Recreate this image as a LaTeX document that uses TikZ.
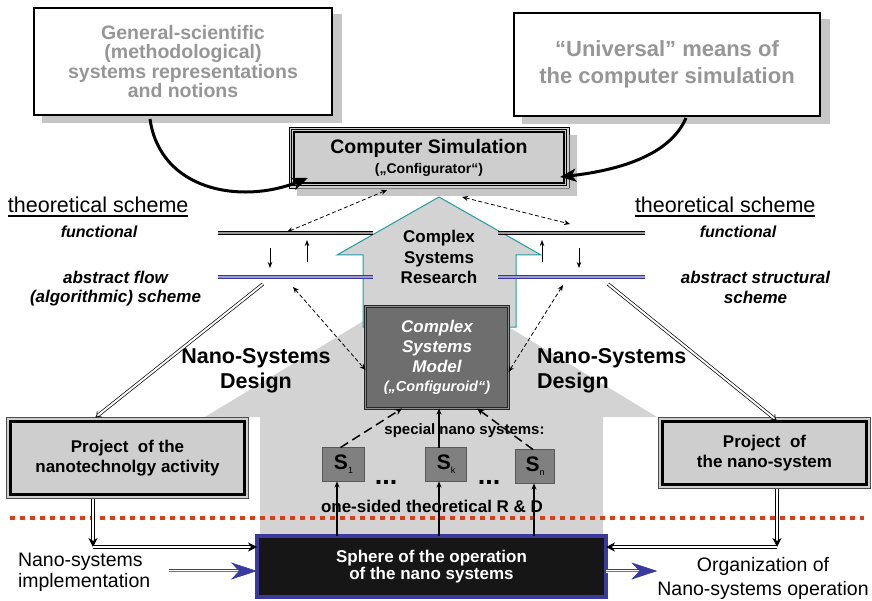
\documentclass[tikz,border=0pt]{standalone}
\usepackage{fontspec}
\setmainfont{Liberation Sans}
\usetikzlibrary{arrows.meta}

\definecolor{panelgray}{RGB}{206,206,206}
\definecolor{boxshade}{RGB}{198,198,198}
\definecolor{areagray}{RGB}{211,211,211}
\definecolor{modelgray}{RGB}{110,110,110}
\definecolor{stepgray}{RGB}{128,128,128}
\definecolor{softtext}{RGB}{150,150,150}
\definecolor{navy}{RGB}{58,58,158}
\definecolor{tealline}{RGB}{30,158,160}
\definecolor{dotred}{RGB}{214,64,24}
\definecolor{deepblack}{RGB}{22,22,22}

\newcommand\fs[2]{\fontsize{#1}{#2}\selectfont}

\begin{document}
\begin{tikzpicture}[x=1pt,y=-1pt,
  every node/.style={inner sep=0pt, outer sep=0pt, align=center},
  sourcebox/.style={draw, line width=2pt, fill=white, text=softtext},
  simbox/.style={draw, line width=0.7pt, fill=panelgray},
  modelbox/.style={draw=black!85, line width=0.7pt, double=black!45, double distance=1.4pt,
    fill=modelgray, text=white},
  projbox/.style={draw=black!70, line width=0.6pt, fill=panelgray},
  sbox/.style={draw=black!65, line width=0.8pt, fill=stepgray},
  spherebox/.style={draw=navy, line width=4pt, fill=deepblack, text=white},
  schemeline/.style={draw=black, line width=1pt, double=black!40, double distance=2pt},
  flowline/.style={draw=navy, line width=0.9pt, double=navy!50!white, double distance=2.2pt},
  bigcurve/.style={line width=3pt, -{Stealth[length=16pt,width=13pt,inset=4pt]}},
  linkarrow/.style={line width=0.8pt, dash pattern=on 4pt off 2.5pt,
    {Stealth[length=6pt,width=5pt]}-{Stealth[length=6pt,width=5pt]}},
  tickarrow/.style={line width=0.8pt, -{Stealth[length=6pt,width=4.5pt]}},
  designarrow/.style={line width=0.7pt, double, double distance=2pt, -{Implies}},
  feedarrow/.style={line width=0.7pt, double, double distance=2pt, -{Stealth[length=9pt,width=9pt]}},
  bluepipe/.style={draw=navy!75!white, line width=0.6pt,
    -{Stealth[length=26pt,width=17pt,inset=8pt,color=navy]},
    preaction={draw=navy, line width=0.8pt, double=white, double distance=3pt, arrows=-, shorten >=14pt}},
  riseline/.style={line width=1.5pt, -{Stealth[length=6pt,width=5pt]}},
  trialline/.style={line width=1.5pt, dash pattern=on 9pt off 5pt, -{Stealth[length=7pt,width=6pt]}},
  cutline/.style={draw=dotred, line width=4.5pt, dash pattern=on 4.5pt off 5.5pt}
]
\useasboundingbox (0,0) rectangle (872,601);

% shaded design area behind the lower part
\fill[areagray] (431,280) -- (657,417) -- (603,417) -- (603,534) -- (260,534)
  -- (260,417) -- (205,417) -- cycle;

% research arrow
\filldraw[fill=areagray, draw=tealline, line width=1pt]
  (439,197) -- (541,255) -- (516,255) -- (516,327) -- (363,327) -- (363,255) -- (337,255) -- cycle;
\node[font=\bfseries\fs{17}{20.3}] (research) at (439,257) {Complex\\Systems\\Research};

% boundary between theory and practice
\coordinate (cutL) at (10,518);
\coordinate (cutR) at (864,518);
\draw[cutline] (cutL) -- (cutR);

% sources with their shadows
\fill[color=boxshade] (42,14.5) rectangle (342,123.5);
\fill[color=boxshade] (522,19.5) rectangle (830,124.5);
\node[sourcebox, minimum width=298pt, minimum height=107pt, font=\bfseries\fs{19.5}{19.3}] (gen) at (183,61.5)
  {General-scientific\\(methodological)\\systems representations\\and notions};
\node[sourcebox, minimum width=306pt, minimum height=103pt, font=\bfseries\fs{22}{27}] (uni) at (667,64.5)
  {“Universal” means of\\the computer simulation};

% computer simulation with an L-shaped shadow
\node[simbox, minimum width=280pt, minimum height=61pt, font=\bfseries\fs{19.5}{19}] (cs) at (429,157.5)
  {Computer Simulation\\[1pt]{\fs{14}{14}(„Configurator“)}};
\fill[color=boxshade] (569.5,135) -- (577,135) -- (577,196) -- (297,196) -- (297,188.5) -- (569.5,188.5) -- cycle;
\draw[line width=0.7pt] ([shift={(2.4pt,2.4pt)}]cs.south west) rectangle ([shift={(-2.4pt,-2.4pt)}]cs.north east);
\draw[line width=1.5pt] ([shift={(5pt,5pt)}]cs.south west) rectangle ([shift={(-5pt,-5pt)}]cs.north east);

\draw[bigcurve] ([xshift=-33pt,yshift=-4pt]gen.south) .. controls (160,190) and (240,205) .. ([shift={(19pt,-20.5pt)}]cs.west);
\draw[bigcurve] ([xshift=19pt,yshift=-2pt]uni.south) .. controls (670,155) and (620,170) .. ([shift={(-9pt,-19.5pt)}]cs.east);

% theoretical schemes
\node[anchor=base west, font=\fs{21.5}{22}] (thL) at (8,213) {theoretical scheme};
\draw[line width=1.1pt] ([yshift=-3pt]thL.base west) -- ([yshift=-3pt]thL.base east);
\node[anchor=base west, font=\fs{21.5}{22}] (thR) at (635,213) {theoretical scheme};
\draw[line width=1.1pt] ([yshift=-3pt]thR.base west) -- ([yshift=-3pt]thR.base east);

\node[anchor=base, font=\bfseries\itshape\fs{16}{16}] (funL) at (99,238) {functional};
\node[anchor=base, font=\bfseries\itshape\fs{16}{16}] (funR) at (738,238) {functional};
\node[font=\bfseries\itshape\fs{17}{19}] (absL) at (115.5,289) {abstract flow\\(algorithmic) scheme};
\node[font=\bfseries\itshape\fs{17}{20}] (absR) at (755.5,287) {abstract structural\\scheme};

\coordinate (fL1) at (218,233); \coordinate (fL2) at (373,233);
\coordinate (aL1) at (218,277); \coordinate (aL2) at (373,277);
\coordinate (fR1) at (498,233); \coordinate (fR2) at (645,233);
\coordinate (aR1) at (498,277); \coordinate (aR2) at (645,277);
\draw[schemeline] (fL1) -- (fL2);
\draw[flowline] (aL1) -- (aL2);
\draw[schemeline] (fR1) -- (fR2);
\draw[flowline] (aR1) -- (aR2);

\draw[tickarrow] ([xshift=52pt,yshift=-15pt]fL1) -- ([xshift=52pt,yshift=9pt]aL1);
\draw[tickarrow] ([xshift=89pt,yshift=15pt]aL1) -- ([xshift=89pt,yshift=-7pt]fL1);
\draw[tickarrow] ([xshift=44pt,yshift=15pt]aR1) -- ([xshift=44pt,yshift=-7pt]fR1);
\draw[tickarrow] ([xshift=81pt,yshift=-15pt]fR1) -- ([xshift=81pt,yshift=9pt]aR1);

\draw[linkarrow] ([xshift=-42pt,yshift=-2pt]cs.south) -- ([xshift=69pt,yshift=1pt]fL1);
\draw[linkarrow] ([xshift=33pt,yshift=-9pt]cs.south) -- ([xshift=72pt,yshift=9pt]fR1);

% model of complex systems
\node[modelbox, minimum width=143pt, minimum height=102pt, font=\bfseries\itshape\fs{17}{19.7}] (model) at (437,357.5)
  {Complex\\Systems\\Model\\{\fs{14.5}{14.5}(„Configuroid“)}};
\draw[linkarrow] ([xshift=75pt,yshift=-10pt]aL1) -- ([yshift=-12.5pt]model.west);
\draw[linkarrow] ([xshift=65pt,yshift=-8pt]aR1) -- ([yshift=-14.5pt]model.east);

% design labels
\node[font=\bfseries\fs{21.5}{25.5}] (desL) at (256,371) {Nano-Systems\\Design};
\node[anchor=west, align=left, font=\bfseries\fs{21.5}{25.5}] (desR) at (537,371) {Nano-Systems\\Design};

% projects
\node[projbox, minimum width=242.4pt, minimum height=81.4pt, font=\bfseries\fs{17}{20}] (projL) at (127.5,458)
  {Project~ of the\\nanotechnolgy activity};
\draw[line width=2.6pt] ([shift={(4pt,4pt)}]projL.south west) rectangle ([shift={(-4pt,-4pt)}]projL.north east);
\node[projbox, minimum width=212.4pt, minimum height=71.4pt, font=\bfseries\fs{17}{20}] (projR) at (764.5,453)
  {Project~ of\\the nano-system};
\draw[line width=2.6pt] ([shift={(4pt,4pt)}]projR.south west) rectangle ([shift={(-4pt,-4pt)}]projR.north east);

\draw[designarrow] ([xshift=45pt,yshift=-7pt]aL1) -- ([xshift=-32pt]projL.north);
\draw[designarrow] ([xshift=110pt,yshift=-7pt]aR1) -- ([xshift=12pt,yshift=-3pt]projR.north);

% special nano systems
\node[font=\bfseries\fs{15}{15}] (special) at (464.5,431) {special nano systems:};
\node[sbox, minimum width=42pt, minimum height=34pt] (s1) at (343.5,464.5)
  {\bfseries\fs{21}{21}S\raisebox{-4pt}{\mdseries\fs{9}{9}1}};
\node[sbox, minimum width=41pt, minimum height=34pt] (sk) at (446,464.5)
  {\bfseries\fs{21}{21}S\raisebox{-4pt}{\mdseries\fs{9}{9}k}};
\node[sbox, minimum width=39pt, minimum height=34pt] (sn) at (535,466.5)
  {\bfseries\fs{21}{21}S\raisebox{-4pt}{\mdseries\fs{9}{9}n}};
\node[font=\bfseries\fs{27}{27}] (dotsA) at (386,482) {...};
\node[font=\bfseries\fs{27}{27}] (dotsB) at (489,482) {...};
\node[font=\bfseries\fs{17}{17}] (rnd) at (432,506.6) {one-sided theoretical R \& D};

\draw[trialline] ([xshift=-3pt]s1.north) -- ([xshift=-35pt]model.south);
\draw[riseline] ([xshift=-7pt]sk.north) -- ([xshift=2pt]model.south);
\draw[trialline] ([xshift=-2pt]sn.north) -- ([xshift=40pt]model.south);

% sphere of operation
\node[spherebox, minimum width=349pt, minimum height=61pt, font=\bfseries\fs{17}{17}] (sphere) at (431.5,566.5)
  {Sphere of the operation\\of the nano systems};
\draw[riseline] ([xshift=-94.5pt]sphere.north) -- ([xshift=-6.5pt]s1.south);
\draw[riseline] ([xshift=7.5pt]sphere.north) -- ([xshift=-7pt]sk.south);
\draw[riseline, line width=2pt] ([xshift=102.5pt]sphere.north) -- ([xshift=-1pt]sn.south);

% implementation and organization
\node[anchor=west, align=left, font=\fs{19.5}{21.6}] (impl) at (18,572.5) {Nano-systems\\implementation};
\node[font=\fs{19.5}{23.3}] (org) at (763,578.4) {Organization of\\Nano-systems operation};

\coordinate (cornL) at (93,547);
\coordinate (cornR) at (777,547);
\draw[feedarrow] ([xshift=-34.5pt]projL.south) -- (cornL);
\draw[feedarrow] (cornL) -- (cornL -| sphere.west);
\draw[feedarrow] ([xshift=12.5pt]projR.south) -- (cornR);
\draw[feedarrow] (cornR) -- (cornR -| sphere.east);

\coordinate (pipeL) at ([xshift=19pt,yshift=1.5pt]impl.east);
\coordinate (pipeR) at ([yshift=-4.5pt]sphere.east);
\draw[bluepipe] (pipeL) -- (pipeL -| sphere.west);
\draw[bluepipe] (pipeR) -- (pipeR -| org.west);
\end{tikzpicture}
\end{document}
